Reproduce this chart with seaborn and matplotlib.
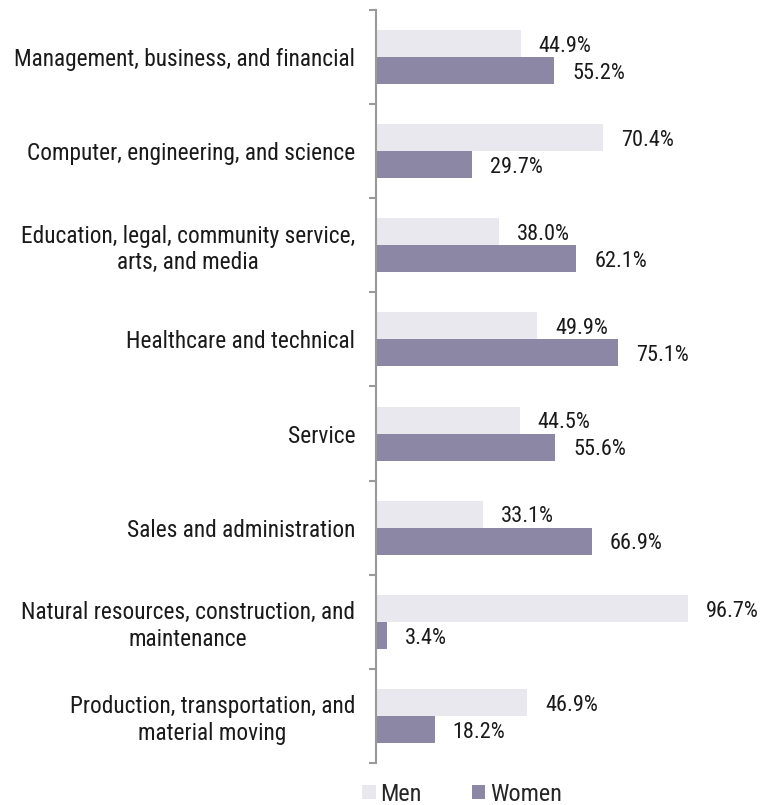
import matplotlib
matplotlib.use("Agg")
import matplotlib.pyplot as plt
import seaborn as sns
import pandas as pd
from matplotlib.patches import Patch
from matplotlib import font_manager

categories = [
    "Management, business, and financial",
    "Computer, engineering, and science",
    "Education, legal, community service,\narts, and media",
    "Healthcare and technical",
    "Service",
    "Sales and administration",
    "Natural resources, construction, and\nmaintenance",
    "Production, transportation, and\nmaterial moving",
]
men = [44.9, 70.4, 38.0, 49.9, 44.5, 33.1, 96.7, 46.9]
women = [55.2, 29.7, 62.1, 75.1, 55.6, 66.9, 3.4, 18.2]
series = ["Men", "Women"]
colors = ["#e9e8ef", "#8b87a5"]

sns.set_theme(style="white")
names = {f.name for f in font_manager.fontManager.ttflist}
fam = ["Roboto Condensed", "Archivo Narrow", "Liberation Sans"]
fam = [f for f in fam if f in names] + ["DejaVu Sans"]
plt.rcParams["font.family"] = fam

df = pd.DataFrame({
    "category": categories * 2,
    "value": men + women,
    "sex": ["Men"] * len(categories) + ["Women"] * len(categories),
})

fig = plt.figure(figsize=(7.72, 8.05), dpi=100)
ax = fig.add_axes([376 / 772, 1 - 763 / 805, 322.5 / 772, (763 - 10) / 805])
sns.barplot(data=df, y="category", x="value", hue="sex", order=categories,
            hue_order=series, palette=colors, orient="h", width=0.575,
            saturation=1, ax=ax, legend=False, edgecolor="none", linewidth=0)

ax.set_xlim(0, 100)
ax.set_ylim(len(categories) - 0.5, -0.5)
ax.set_xlabel("")
ax.set_ylabel("")
ax.set_xticks([])
for s in ["top", "right", "bottom"]:
    ax.spines[s].set_visible(False)
ax.spines["left"].set_color("#9a9a9a")
ax.spines["left"].set_linewidth(1.5)

ax.set_yticks(range(len(categories)))
ax.set_yticklabels(categories, fontsize=16.8, color="#1a1a1a")
for t in ax.get_yticklabels():
    t.set_multialignment("center")
ax.tick_params(axis="y", which="major", length=0, pad=15)
ax.set_yticks([i - 0.5 for i in range(len(categories) + 1)], minor=True)
ax.tick_params(axis="y", which="minor", length=5, width=1.5, color="#9a9a9a",
               direction="out", left=True)

for cont in ax.containers:
    for bar in cont:
        w = bar.get_width()
        yc = bar.get_y() + bar.get_height() / 2
        ax.annotate(f"{w:.1f}%", xy=(w, yc), xytext=(13, -2),
                    textcoords="offset points", ha="left", va="center",
                    fontsize=16, color="#1a1a1a", annotation_clip=False)

handles = [Patch(facecolor=c, edgecolor="none", label=s) for s, c in zip(series, colors)]
fig.legend(handles=handles, loc="center", bbox_to_anchor=(462 / 772, 1 - 794 / 805),
           ncol=2, frameon=False, fontsize=17.5, handlelength=0.55, handleheight=0.55,
           handletextpad=0.2, columnspacing=2.05, borderaxespad=0)

fig.savefig("out.png", dpi=100)
